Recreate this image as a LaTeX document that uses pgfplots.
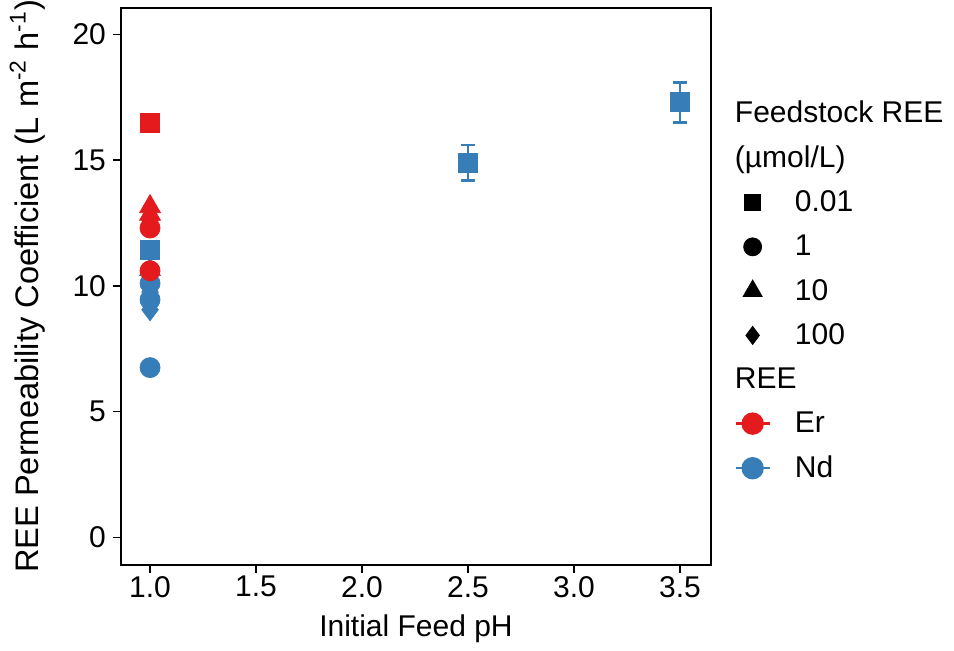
\documentclass[border=0pt]{standalone}
\usepackage{pgfplots}
\pgfplotsset{compat=1.18}
\usepackage{fontspec}
\setmainfont{Liberation Sans}
\definecolor{erred}{HTML}{E41A1C}
\definecolor{ndblue}{HTML}{377EB8}

\pgfplotstableread{
x y e
1.0 16.5 0
}\ErSquare
\pgfplotstableread{
x y e
1.0 13.15 0
1.0 12.85 0
}\ErTri
\pgfplotstableread{
x y e
1.0 12.6 0
}\ErDia
\pgfplotstableread{
x y e
1.0 12.3 0
1.0 10.6 0.2
}\ErCirc
\pgfplotstableread{
x y e
1.0 11.45 0
2.5 14.9 0.7
3.5 17.3 0.8
}\NdSquare
\pgfplotstableread{
x y e
1.0 10.65 0
}\NdTri
\pgfplotstableread{
x y e
1.0 10.1 0
1.0 9.45 0
1.0 6.75 0
}\NdCirc
\pgfplotstableread{
x y e
1.0 9.75 0
1.0 9.3 0
1.0 9.05 0
}\NdDia

\begin{document}
\begin{tikzpicture}[font=\fontsize{15}{18}\selectfont]
\path[use as bounding box] (-60.5pt,-42.5pt) rectangle (416.5pt,282.5pt);
\begin{axis}[
  at={(0,0)}, anchor=south west,
  scale only axis, width=295pt, height=278.5pt,
  xmin=0.863, xmax=3.646, ymin=-1.1, ymax=21.05,
  axis line style={line width=1pt},
  xtick={1,1.5,2,2.5,3,3.5}, ytick={0,5,10,15,20},
  xticklabel style={/pgf/number format/fixed, /pgf/number format/fixed zerofill, /pgf/number format/precision=1, yshift=2pt},
  /pgf/number format/assume math mode=true,
  tick align=outside, tick pos=left, major tick length=4pt,
  tick style={line width=0.8pt, black},
  xlabel={Initial Feed pH},
  ylabel={REE Permeability Coefficient (L m\textsuperscript{-2} h\textsuperscript{-1})},
  xlabel style={yshift=-2pt},
  ylabel style={yshift=7pt, font=\fontsize{16.3}{19}\selectfont},
  error bars/y dir=both, error bars/y explicit,
  error bars/error bar style={line width=1.4pt},
  error bars/error mark options={rotate=90, mark size=3.3pt, line width=1.4pt},
  legend cell align=left,
  legend style={draw=none, fill=none, at={(axis description cs:1,1)}, anchor=north west,
    xshift=11.5pt, yshift=-44pt, row sep=6.2pt, column sep=10pt, inner sep=0pt,
    font=\fontsize{15}{18}\selectfont},
]
% Nd (blue) first
\addplot[only marks, mark=square*, mark size=4.75pt, color=ndblue, forget plot] table[x=x,y=y,y error=e]{\NdSquare};
\addplot[only marks, mark=triangle*, mark size=6pt, color=ndblue, forget plot] table[x=x,y=y,y error=e]{\NdTri};
\addplot[only marks, mark=*, mark size=5pt, color=ndblue, forget plot] table[x=x,y=y,y error=e]{\NdCirc};
\addplot[only marks, mark=diamond*, mark size=5.5pt, color=ndblue, forget plot] table[x=x,y=y,y error=e]{\NdDia};
% Er (red)
\addplot[only marks, mark=square*, mark size=4.75pt, color=erred, forget plot] table[x=x,y=y,y error=e]{\ErSquare};
\addplot[only marks, mark=triangle*, mark size=6pt, color=erred, forget plot] table[x=x,y=y,y error=e]{\ErTri};
\addplot[only marks, mark=diamond*, mark size=5.5pt, color=erred, forget plot] table[x=x,y=y,y error=e]{\ErDia};
\addplot[only marks, mark=*, mark size=5pt, color=erred, forget plot] table[x=x,y=y,y error=e]{\ErCirc};
% legend
\addlegendimage{empty legend}
\addlegendentry{\hspace*{-30pt}Feedstock REE}
\addlegendimage{empty legend}
\addlegendentry{\hspace*{-30pt}(µmol/L)}
\addlegendimage{only marks, mark=square*, mark size=4pt, black}
\addlegendentry{0.01}
\addlegendimage{only marks, mark=*, mark size=4.5pt, black}
\addlegendentry{1}
\addlegendimage{only marks, mark=triangle*, mark size=5.5pt, black}
\addlegendentry{10}
\addlegendimage{only marks, mark=diamond*, mark size=4.5pt, black}
\addlegendentry{100}
\addlegendimage{empty legend}
\addlegendentry{\hspace*{-30pt}REE}
\addlegendimage{erred, line width=1.2pt, mark=*, mark size=5pt}
\addlegendentry{Er}
\addlegendimage{ndblue, line width=1.2pt, mark=*, mark size=5pt}
\addlegendentry{Nd}
\end{axis}
\end{tikzpicture}
\end{document}
